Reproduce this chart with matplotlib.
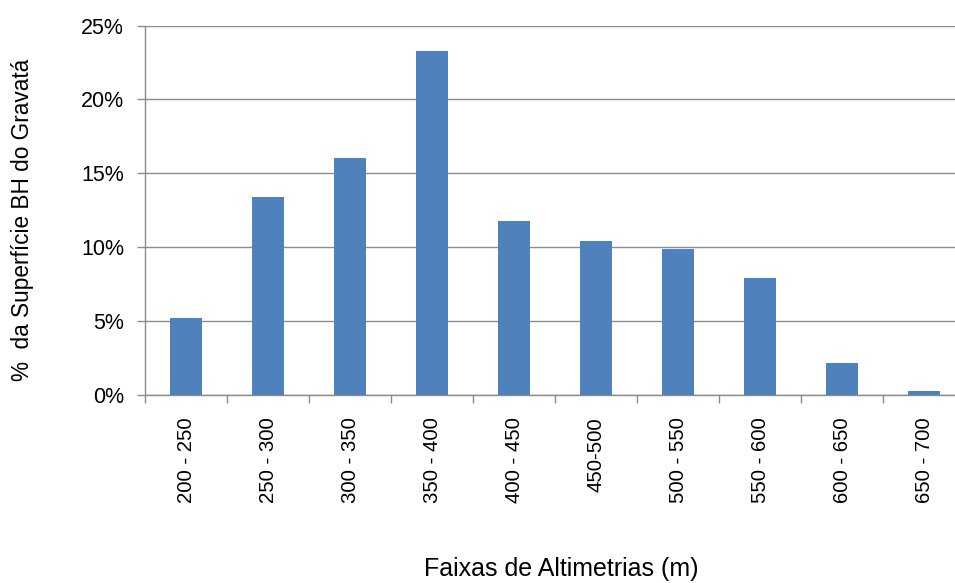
import matplotlib
matplotlib.use("Agg")
import matplotlib.pyplot as plt
from matplotlib.ticker import FixedLocator, PercentFormatter
import numpy as np

categories = ["200 - 250", "250 - 300", "300 - 350", "350 - 400", "400 - 450",
              "450-500", "500 - 550", "550 - 600", "600 - 650", "650 - 700"]
values = [5.19, 13.42, 16.02, 23.3, 11.79, 10.44, 9.88, 7.9, 2.19, 0.25]
yticks = [0, 5, 10, 15, 20, 25]

plt.rcParams['font.family'] = ['Liberation Sans', 'DejaVu Sans']

fig = plt.figure(figsize=(9.55, 5.83), dpi=100)
ax = fig.add_axes([145/955, 1-395/583, 820/955, (395-25.5)/583])

x = np.arange(len(categories))
ax.bar(x, values, width=0.4, color="#4F81BD", zorder=3)

ax.set_xlim(-0.5, len(categories)-0.5)
ax.set_ylim(0, 25)
ax.set_yticks(yticks)
ax.yaxis.set_major_formatter(PercentFormatter(decimals=0))
ax.grid(axis='y', color="#8c8c8c", linewidth=1.0, zorder=0)
for s in ['top', 'right']:
    ax.spines[s].set_visible(False)
for s in ['left', 'bottom']:
    ax.spines[s].set_color("#8c8c8c")
    ax.spines[s].set_linewidth(1.0)

ax.set_xticks(x)
ax.set_xticklabels(categories, rotation=90, fontsize=14.7)
ax.tick_params(axis='x', which='major', length=0, pad=16)
ax.xaxis.set_minor_locator(FixedLocator(np.arange(len(categories)+1)-0.5))
ax.tick_params(axis='x', which='minor', length=6, color="#8c8c8c", width=1)
ax.tick_params(axis='y', length=6, color="#8c8c8c", width=1, labelsize=15.5, pad=9)

fig.text(23/955, 1-220/583, "%  da Superfície BH do Gravatá", rotation=90,
         ha='center', va='center', fontsize=16.3)
fig.text(561/955, 1-569/583, "Faixas de Altimetrias (m)", ha='center', va='center',
         fontsize=18)

fig.savefig("out.png", dpi=100)
